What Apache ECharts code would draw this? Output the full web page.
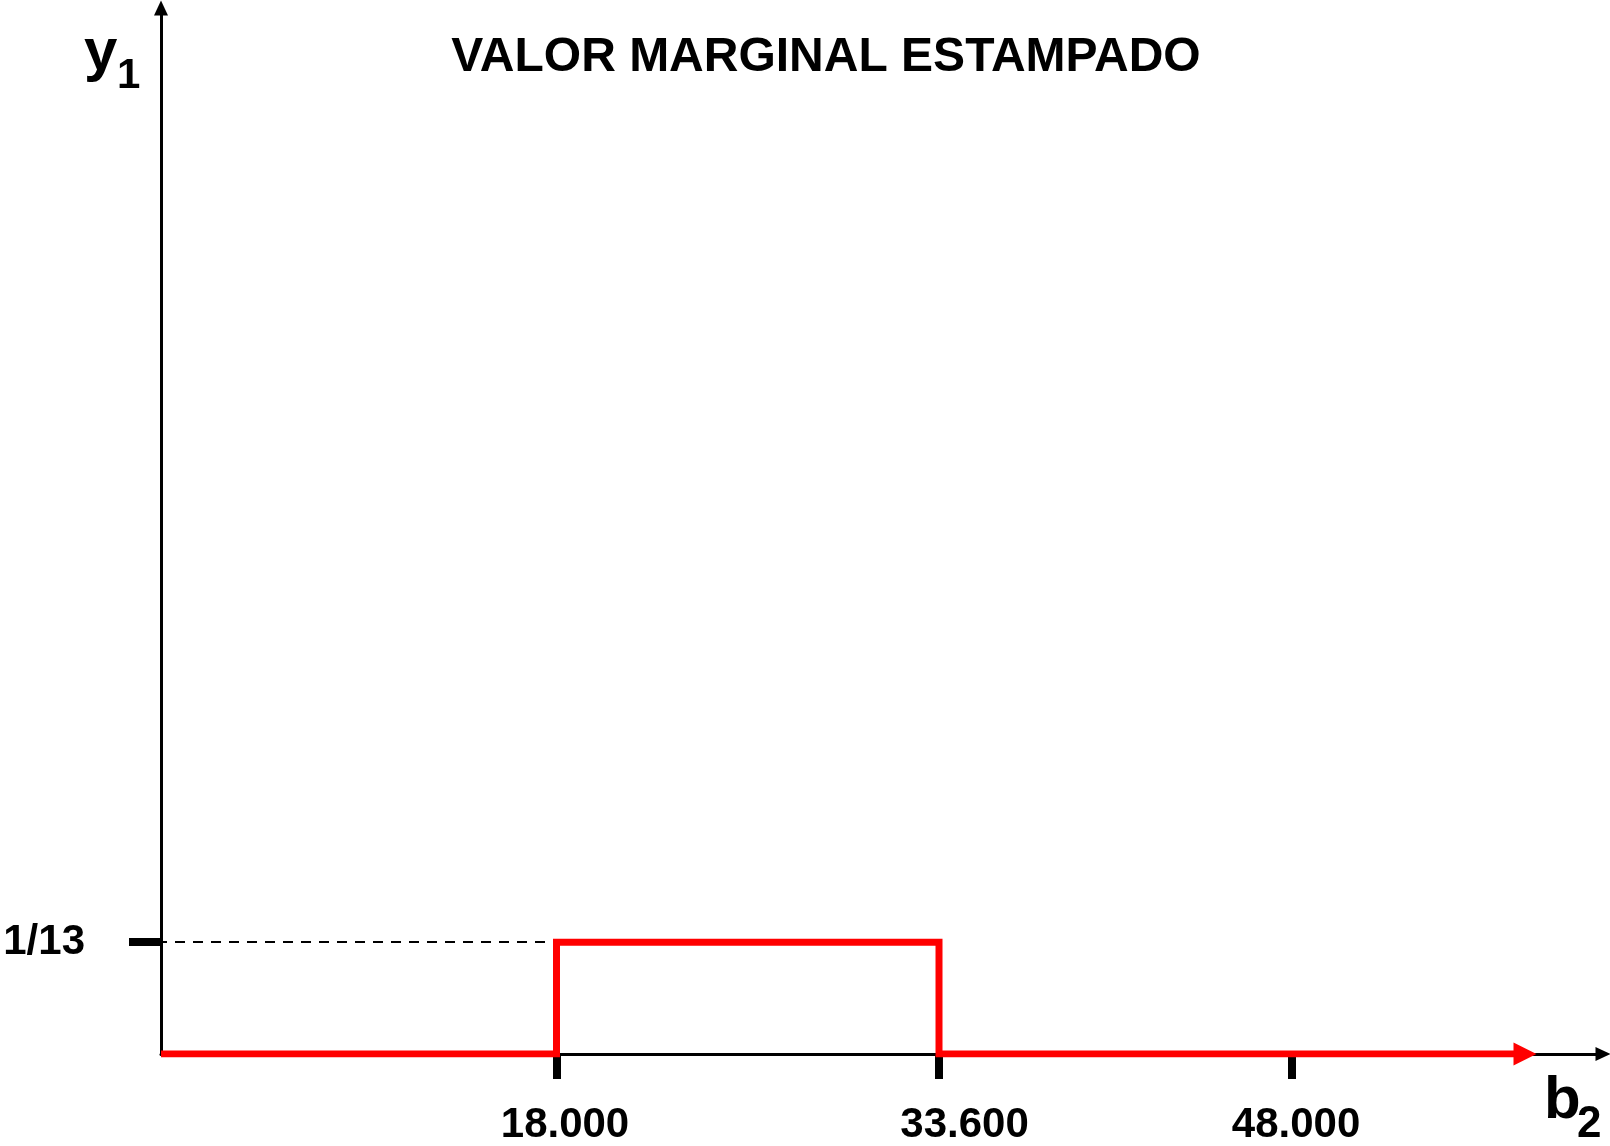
<!DOCTYPE html>
<html>
<head>
<meta charset="utf-8">
<title>Valor marginal estampado</title>
<script src="https://cdn.jsdelivr.net/npm/echarts@6/dist/echarts.min.js"></script>
<style>
  html, body { margin: 0; padding: 0; background: #ffffff; }
  #chart { width: 1610px; height: 1146px; }
</style>
</head>
<body>
<div id="chart"></div>
<script>
// Breakpoints of the marginal value of b2 (piecewise constant)
const b2Values = [1870, 18000, 18000, 33600, 33600, 57500];
const y1Values = [0, 0, 1 / 13, 1 / 13, 0, 0];

// Axis ticks
const xTickValues = [18000, 33600, 48000];
const xTickLabels = ['18.000', '33.600', '48.000'];
const yTickValues = [1 / 13];
const yTickLabels = ['1/13'];

const titleText = 'VALOR MARGINAL ESTAMPADO';

const FONT = '"Liberation Sans", Arial, sans-serif';
const RED = '#ff0000';
const BLACK = '#000000';

// horizontal nudge of each x label (px), applied as left padding in rich text
const xLabelShift = [17, 51, 8];

const lastIndex = b2Values.length - 1;
const lineData = b2Values.map((b, i) => {
  const item = { value: [b, y1Values[i]] };
  if (i === lastIndex) {
    item.symbol = 'triangle';
    item.symbolSize = [23, 23];
    item.symbolRotate = -90;
  }
  return item;
});

const xRich = {};
xTickLabels.forEach((t, i) => {
  xRich['l' + i] = {
    fontFamily: FONT, fontWeight: 'bold', fontSize: 42, color: BLACK,
    padding: [0, 0, 0, xLabelShift[i]]
  };
});

const chart = echarts.init(document.getElementById('chart'), null, { renderer: 'canvas' });

chart.setOption({
  animation: false,
  backgroundColor: '#ffffff',
  title: {
    text: titleText,
    left: 826,
    top: 34,
    padding: 0,
    textAlign: 'center',
    textStyle: { fontFamily: FONT, fontWeight: 'bold', fontSize: 48, color: BLACK }
  },
  grid: { left: 161, right: 7, top: 8, bottom: 90, containLabel: false },
  xAxis: {
    type: 'value',
    min: 1870,
    max: 60680,
    splitLine: { show: false },
    axisLine: {
      onZero: false,
      lineStyle: { color: BLACK, width: 3 },
      symbol: ['none', 'triangle'],
      symbolSize: [14, 15]
    },
    axisTick: {
      show: true,
      customValues: xTickValues,
      length: 25,
      lineStyle: { color: BLACK, width: 8 }
    },
    axisLabel: {
      show: true,
      customValues: xTickValues,
      margin: 50,
      formatter: function (v) {
        const i = xTickValues.indexOf(v);
        return i < 0 ? '' : '{l' + i + '|' + xTickLabels[i] + '}';
      },
      rich: xRich
    }
  },
  yAxis: {
    type: 'value',
    min: 0,
    max: 0.72,
    splitLine: { show: false },
    axisLine: {
      onZero: false,
      lineStyle: { color: BLACK, width: 3 },
      symbol: ['none', 'triangle'],
      symbolSize: [14, 15]
    },
    axisTick: {
      show: true,
      customValues: yTickValues,
      length: 32,
      lineStyle: { color: BLACK, width: 8 }
    },
    axisLabel: {
      show: true,
      customValues: yTickValues,
      margin: 76,
      padding: [0, 0, 36, 0],
      fontFamily: FONT,
      fontWeight: 'bold',
      fontSize: 42,
      color: BLACK,
      formatter: function (v) {
        const i = yTickValues.findIndex(t => Math.abs(t - v) < 1e-9);
        return i < 0 ? '' : yTickLabels[i];
      }
    }
  },
  graphic: [
    // y1 axis name
    { type: 'text', x: 84, y: 53, style: { text: 'y', font: 'bold 60px ' + FONT, fill: BLACK, align: 'left', verticalAlign: 'middle' } },
    { type: 'text', x: 117, y: 76, style: { text: '1', font: 'bold 42px ' + FONT, fill: BLACK, align: 'left', verticalAlign: 'middle' } },
    // b2 axis name
    { type: 'text', x: 1544, y: 1101, style: { text: 'b', font: 'bold 60px ' + FONT, fill: BLACK, align: 'left', verticalAlign: 'middle' } },
    { type: 'text', x: 1577, y: 1125, style: { text: '2', font: 'bold 44px ' + FONT, fill: BLACK, align: 'left', verticalAlign: 'middle' } }
  ],
  series: [{
    type: 'line',
    data: lineData,
    symbol: 'none',
    itemStyle: { color: RED },
    lineStyle: { color: RED, width: 7, join: 'miter', cap: 'butt' },
    z: 5,
    markLine: {
      silent: true,
      symbol: ['none', 'none'],
      label: { show: false },
      lineStyle: { color: BLACK, width: 2, type: [10, 8], dashOffset: -14 },
      data: [[
        { coord: [b2Values[0], yTickValues[0]] },
        { coord: [b2Values[1], yTickValues[0]] }
      ]]
    }
  }]
});
</script>
</body>
</html>
